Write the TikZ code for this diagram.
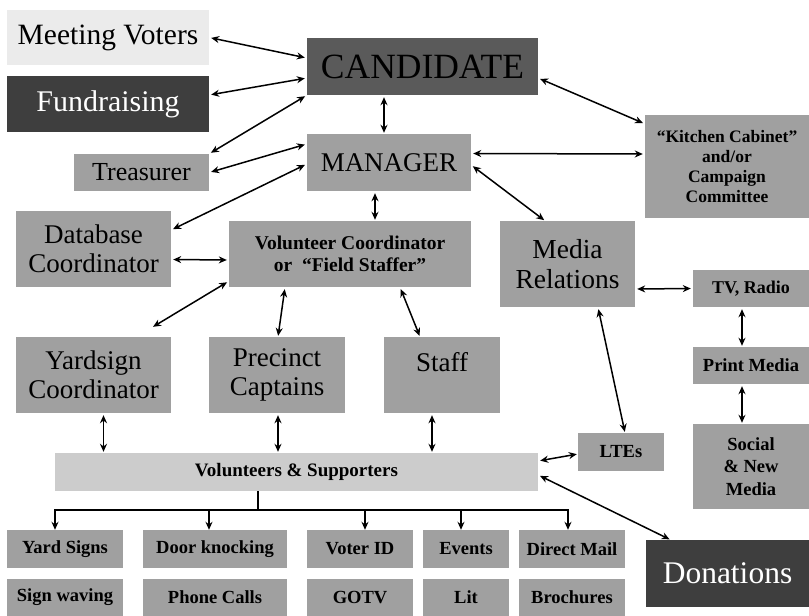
\documentclass[tikz,border=0pt]{standalone}
\usepackage{fontspec}
\setmainfont{Liberation Serif}
\usetikzlibrary{arrows.meta,calc}
\definecolor{boxgray}{HTML}{A0A0A0}
\definecolor{lightbox}{HTML}{CCCCCC}
\definecolor{palebox}{HTML}{EBEBEB}
\definecolor{darkbox}{HTML}{3E3E3E}
\definecolor{candbox}{HTML}{5A5A5A}
\newcommand\fsz[2]{\fontsize{#1}{#2}\selectfont}
\begin{document}
\begin{tikzpicture}[x=1pt,y=-1pt,
  box/.style={fill=boxgray, inner sep=0pt, align=center, text=black},
  arr/.style={line width=1.5pt, {Stealth[length=8pt,width=7pt]}-{Stealth[length=8pt,width=7pt]}},
  down/.style={line width=1.5pt, -{Stealth[length=8pt,width=7pt]}},
  line/.style={line width=1.5pt}]
\useasboundingbox (0,0) rectangle (809,616);
\fill[white] (0,0) rectangle (809,616);
% top
\node[box, fill=palebox, minimum width=202, minimum height=55, font=\fsz{29.5}{32}] (mv) at (108,37.5) {Meeting Voters};
\node[box, fill=darkbox, text=white, minimum width=202, minimum height=56, font=\fsz{30}{32}] (fund) at (108,104) {Fundraising};
\node[box, fill=candbox, minimum width=231, minimum height=57, font=\fsz{35.5}{38}] (cand) at (422.5,66.5) {CANDIDATE};
\node[box, minimum width=135, minimum height=37, font=\fsz{26}{28}] (treas) at (141.5,172.5) {Treasurer};
\node[box, minimum width=164, minimum height=57, font=\fsz{27}{30}] (mgr) at (389,162.5) {MANAGER};
\node[box, minimum width=164, minimum height=103, font=\bfseries\fsz{17.5}{20}] (kit) at (727,166.5) {“Kitchen Cabinet”\\and/or\\Campaign\\Committee};
\node[box, minimum width=155, minimum height=76, font=\fsz{27}{29}] (db) at (93.5,249) {Database\\Coordinator};
\node[box, minimum width=242, minimum height=66, font=\bfseries\fsz{19.5}{22}] (vc) at (350,254) {Volunteer Coordinator\\or \ “Field Staffer”};
\node[box, minimum width=135, minimum height=86, font=\fsz{27.5}{30}] (media) at (567.5,264) {Media\\Relations};
\node[box, minimum width=116, minimum height=37, font=\bfseries\fsz{18}{20}] (tv) at (751,288.5) {TV, Radio};
\node[box, minimum width=116, minimum height=37, font=\bfseries\fsz{18.5}{20}] (print) at (751,365.5) {Print Media};
\node[box, minimum width=116, minimum height=85, font=\bfseries\fsz{18.5}{22.5}] (social) at (751,466.5) {Social\\\& New\\Media};
\node[box, minimum width=155, minimum height=76, font=\fsz{27}{29}] (ys) at (93.5,375) {Yardsign\\Coordinator};
\node[box, minimum width=136, minimum height=76, font=\fsz{27}{29}] (pc) at (277,375) {Precinct\\Captains};
\node[box, minimum width=116, minimum height=76, font=\fsz{27}{29}] (staff) at (442,375) {\raisebox{27pt}{Staff}};
\node[box, minimum width=86, minimum height=38, font=\bfseries\fsz{18.5}{20}] (lte) at (621,452) {LTEs};
\node[box, fill=lightbox, minimum width=483, minimum height=38, font=\bfseries\fsz{19}{20}] (vs) at (296.5,472) {Volunteers \& Supporters};
\node[box, fill=darkbox, text=white, minimum width=163, minimum height=67, font=\fsz{31.5}{34}] (don) at (727.5,573.5) {Donations};
% bottom rows
\tikzset{small/.style={box, minimum height=38, font=\bfseries\fsz{18.5}{20}}}
\node[small, minimum width=116] (b1) at (65,549) {Yard Signs};
\node[small, minimum width=144] (b2) at (215,549) {Door knocking};
\node[small, minimum width=106] (b3) at (360,549) {Voter ID};
\node[small, minimum width=86] (b4) at (466,549) {Events};
\node[small, minimum width=106] (b5) at (572,549) {Direct Mail};
\node[small, minimum width=116] (c1) at (65,597.5) {Sign waving};
\node[small, minimum width=144] (c2) at (215,597.5) {Phone Calls};
\node[small, minimum width=106] (c3) at (360,597.5) {GOTV};
\node[small, minimum width=86] (c4) at (466,597.5) {Lit};
\node[small, minimum width=106] (c5) at (572,597.5) {Brochures};
% connectors
\draw[arr, shorten <=2pt, shorten >=2pt] (mv.east) -- ([yshift=8.5]cand.west);
\draw[arr, shorten <=2pt, shorten >=2pt] ([yshift=9]fund.east) -- ([yshift=-11.5]cand.west);
\draw[arr, shorten <=2pt, shorten >=2pt] (treas.north east) -- (cand.south west);
\draw[arr, shorten <=2pt, shorten >=2pt] (treas.east) -- ([yshift=18.5]mgr.west);
\draw[arr, shorten <=2pt, shorten >=2pt] ([yshift=19]db.east) -- ([yshift=-1.5]mgr.west);
\draw[arr, shorten <=2pt, shorten >=1pt] ([xshift=-38.5]cand.south) -- ([xshift=-5]mgr.north);
\draw[arr, shorten <=2pt, shorten >=2pt] ([yshift=-11.5]cand.east) -- ([yshift=-9]kit.north west);
\draw[arr, shorten <=2pt, shorten >=2pt] ([yshift=9]mgr.east) -- ([yshift=12.5]kit.west);
\draw[arr, shorten <=2pt, shorten >=1pt] ([yshift=-2.5]mgr.east) -- ([xshift=-22.5]media.north);
\draw[arr, shorten <=2pt, shorten >=1pt] ([xshift=-14]mgr.south) -- ([xshift=25]vc.north);
\draw[arr, shorten <=2pt, shorten >=2pt] ([yshift=-10.5]db.east) -- ([yshift=-6]vc.west);
\draw[arr, shorten <=2pt] ([yshift=6]vc.south west) -- ([xshift=59.5,yshift=10]ys.north);
\draw[arr, shorten <=2pt, shorten >=1pt] ([xshift=-65]vc.south) -- ([xshift=1]pc.north);
\draw[arr, shorten <=2pt, shorten >=1pt] ([xshift=50]vc.south) -- ([xshift=-22]staff.north);
\draw[arr, shorten <=2pt, shorten >=2pt] ([yshift=-25]media.east) -- (tv.west);
\draw[arr, shorten <=2pt, shorten >=1pt] ([xshift=30.5]media.south) -- ([xshift=4]lte.north);
\draw[arr, shorten <=2pt, shorten >=1pt] ([xshift=-9]tv.south) -- ([xshift=-9]print.north);
\draw[arr, shorten <=2pt, shorten >=1pt] ([xshift=-9]print.south) -- ([xshift=-9]social.north);
\draw[arr, shorten <=2pt, shorten >=1pt] ([xshift=10]ys.south) -- ([xshift=10]ys.south |- vs.north);
\draw[arr, shorten <=2pt, shorten >=1pt] ([xshift=1]pc.south) -- ([xshift=1]pc.south |- vs.north);
\draw[arr, shorten <=2pt, shorten >=1pt] ([xshift=-10]staff.south) -- ([xshift=-10]staff.south |- vs.north);
\draw[arr, shorten <=1pt, shorten >=2pt] ([yshift=-2]lte.west) -- ([yshift=11]vs.east);
\draw[arr, shorten <=2pt, shorten >=1pt] ([yshift=-3]vs.east) -- ([xshift=-57]don.north);
% bus
\coordinate (busy) at (0,510);
\coordinate (jn) at ([xshift=-38.5]vs.south |- busy);
\draw[line] ([xshift=-38.5]vs.south) -- (jn);
\draw[down] (jn) -| ([xshift=-10]b1.north);
\draw[down] (jn) -| ([xshift=-6]b2.north);
\draw[down] (jn) -| ([xshift=5]b3.north);
\draw[down] (jn) -| ([xshift=-5]b4.north);
\draw[down] (jn) -| ([xshift=-4]b5.north);
\end{tikzpicture}
\end{document}
